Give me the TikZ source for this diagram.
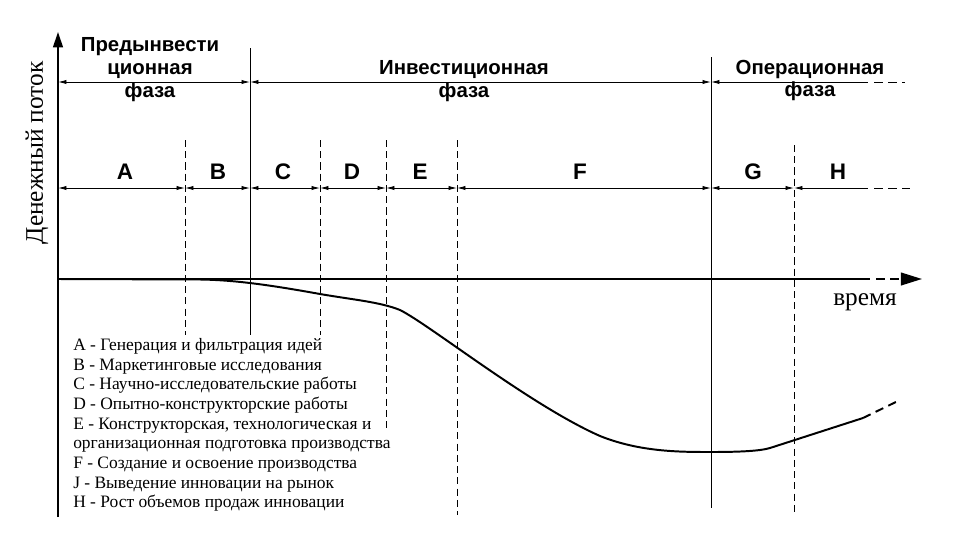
\documentclass[tikz,border=0pt]{standalone}
\usepackage{fontspec}
\setmainfont{Liberation Serif}
\newfontfamily\phasefont{Liberation Sans}
\usetikzlibrary{arrows.meta}

\tikzset{
  axisline/.style={line width=1.4pt},
  phaseline/.style={line width=0.6pt},
  stageline/.style={line width=0.6pt, dash pattern=on 5pt off 3pt},
  dimline/.style={line width=0.6pt, {Latex[length=6pt,width=3pt]}-{Latex[length=6pt,width=3pt]}},
  dimfree/.style={line width=0.6pt, {Latex[length=6pt,width=3pt]}-},
  dimdash/.style={line width=0.6pt, dash pattern=on 6pt off 4pt},
  phaselabel/.style={font=\phasefont\bfseries\fontsize{14.5}{16.3}\selectfont, align=center, inner sep=0pt},
  stagelabel/.style={font=\phasefont\bfseries\fontsize{16}{18}\selectfont, inner sep=0pt},
  axislabel/.style={font=\fontsize{18}{20}\selectfont, inner sep=0pt},
  cashcurve/.style={line width=1.4pt}
}

\begin{document}
\begin{tikzpicture}[x=0.25mm,y=-0.25mm]
\useasboundingbox (0,0) rectangle (960,540);
%\draw[step=20,gray,very thin] (0,0) grid (960,540); %background grid
% axes
\coordinate (O) at (58,279);
\coordinate (ytop) at (58,32);
\coordinate (ybot) at (58,517);
\coordinate (xsolid) at (862,279);
\coordinate (xend) at (922,279);
\draw[axisline] (ybot) -- (O);
\draw[axisline,-{Triangle[length=11pt,width=7pt]}] (O) -- (ytop);
\draw[axisline] (O) -- (xsolid);
\draw[axisline,dash pattern=on 6pt off 4pt,-{Triangle[length=15pt,width=9pt]}] (xsolid) -- (xend);
\node[axislabel,rotate=90] (ylab) at (37,153) {Денежный поток};
\node[axislabel] (xlab) at (865,302) {время};
% phase borders (solid)
\coordinate (b1t) at (250,48);  \coordinate (b1b) at (250,335);
\coordinate (b2t) at (711,57);  \coordinate (b2b) at (711,508);
\draw[phaseline] (b1t) -- (b1b);
\draw[phaseline] (b2t) -- (b2b);
% stage borders (dashed)
\foreach \n/\x/\ya/\yb in {d1/185/140/335, d2/320/140/335, d3/386/140/428, d4/457/140/515, d5/794/145/513}{
  \coordinate (\n t) at (\x,\ya);
  \coordinate (\n b) at (\x,\yb);
  \draw[stageline] (\n t) -- (\n b);
}
% phase row
\coordinate (ph0) at (58,82);
\coordinate (ph1) at (250,82);
\coordinate (ph2) at (711,82);
\coordinate (ph3) at (860,82);
\coordinate (ph4) at (905,82);
\draw[dimline] (ph0) -- (ph1);
\draw[dimline] (ph1) -- (ph2);
\draw[dimfree] (ph2) -- (ph3);
\draw[dimdash] (ph3) -- (ph4);
\node[phaselabel] (pre) at (150,70) {Предынвести\\ционная\\фаза};
\node[phaselabel] (inv) at (464,81.5) {Инвестиционная\\фаза};
\node[phaselabel] (oper) at (810,80.5) {Операционная\\фаза};
% stage row
\foreach \n/\x in {s0/58, s1/185, s2/250, s3/320, s4/386, s5/457, s6/711, s7/794, s8/860, s9/910}
  \coordinate (\n) at (\x,188);
\foreach \a/\b in {s0/s1, s1/s2, s2/s3, s3/s4, s4/s5, s5/s6, s6/s7}
  \draw[dimline] (\a) -- (\b);
\draw[dimfree] (s7) -- (s8);
\draw[dimdash] (s8) -- (s9);
\foreach \n/\x/\t in {lA/125/A, lB/218/B, lC/283/C, lD/352/D, lE/420/E, lF/580/F, lG/753/G, lH/838/H}
  \node[stagelabel] (\n) at (\x,172) {\t};
% cash flow curve
\coordinate (cend) at (863,418);
\coordinate (cfree) at (900,400);
\draw[cashcurve] (O) -- (200,279.5)
  .. controls (235,280) and (270,285) .. (320,294)
  .. controls (355,300) and (380,302) .. (400,310)
  .. controls (430,325) and (530,405) .. (600,436)
  .. controls (640,452) and (680,452) .. (711,452)
  .. controls (740,452) and (760,451) .. (770,448)
  -- (cend);
\draw[cashcurve,dash pattern=on 6pt off 4pt] (cend) -- (cfree);
% legend
\node[anchor=west,align=left,inner sep=0pt,font=\fontsize{12.4}{14}\selectfont] (legend) at (73,425) {A - Генерация и фильтрация идей\\
B - Маркетинговые исследования\\
C - Научно-исследовательские работы\\
D - Опытно-конструкторские работы\\
E - Конструкторская, технологическая и\\
организационная подготовка производства\\
F - Создание и освоение производства\\
J - Выведение инновации на рынок\\
H - Рост объемов продаж инновации};
\end{tikzpicture}
\end{document}
